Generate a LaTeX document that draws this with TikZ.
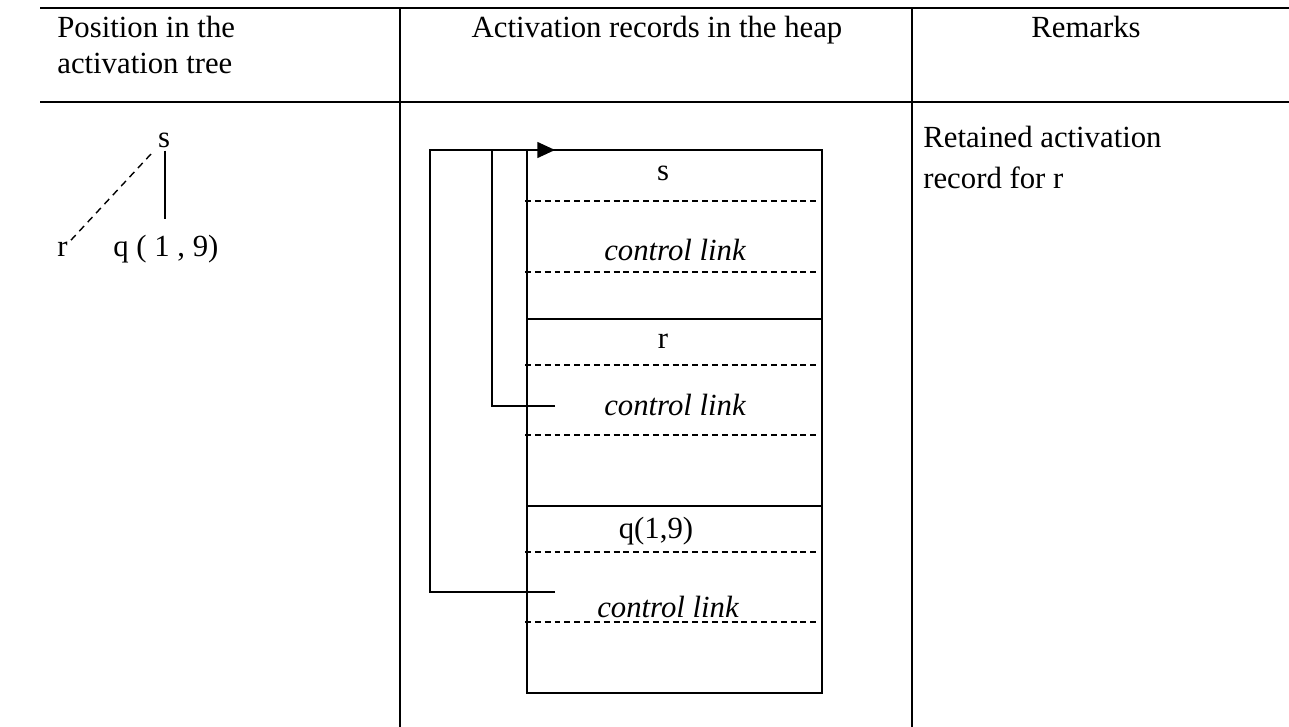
\documentclass[tikz,border=0pt]{standalone}
\usepackage{fontspec}
\setmainfont{Liberation Serif}
\usetikzlibrary{arrows.meta,positioning}

\begin{document}
\begin{tikzpicture}[
  x=0.02cm, y=-0.02cm,
  txt/.style={font=\fontsize{17.5}{21}\selectfont, inner sep=0pt},
  lbl/.style={font=\fontsize{17.5}{21}\selectfont\itshape, inner sep=0pt},
  rule/.style={line width=1.2pt},
  frame/.style={line width=0.9pt},
  sep/.style={line width=0.7pt, dash pattern=on 3.4pt off 2.2pt},
  treedash/.style={line width=0.8pt, dash pattern=on 4pt off 3pt},
  arr/.style={-{Triangle[length=10pt,width=9pt]}, line width=0.9pt}
]
\useasboundingbox (0,0) rectangle (1289,727);

% table
\draw[rule] (40,8) -- (1289,8);
\draw[rule] (40,102) -- (1289,102);
\draw[frame] (400,8) -- (400,727);
\draw[frame] (912,8) -- (912,727);

\node[txt, anchor=base west] (h1a) at (57,37) {Position in the};
\node[txt, anchor=base west] (h1b) at (57,73) {activation tree};
\node[txt, anchor=base] (h2) at (657,37) {Activation records in the heap};
\node[txt, anchor=base] (h3) at (1086,37) {Remarks};

% activation tree
\node[txt, anchor=base] (ts) at (164,147) {s};
\node[txt, anchor=base west] (tr) at (57,256) {r};
\node[txt, anchor=base west] (tq) at (113,256) {q ( 1 , 9)};
\draw[frame] (ts.south) ++(1,3) -- (165,219);
\draw[treedash] (tr.north east) ++(3,-1) -- (151,154);

% heap
\draw[frame] (527,150) rectangle (822,693);
\draw[frame] (527,319) -- (822,319);
\draw[frame] (527,506) -- (822,506);
\foreach \y in {201,272,365,435,552,622}
  \draw[sep] (525,\y) -- (818,\y);

\node[txt, anchor=base] (ss) at (663,180) {s};
\node[lbl, anchor=base] (cl1) at (675,260) {control link};
\node[txt, anchor=base] (rr) at (663,348) {r};
\node[lbl, anchor=base] (cl2) at (675,415) {control link};
\node[txt, anchor=base] (qq) at (656,538) {q(1,9)};
\node[lbl, anchor=base] (cl3) at (668,617) {control link};

\coordinate (entry) at (555,150);
\coordinate (link2) at (555,406);
\coordinate (link3) at (555,592);
\coordinate (inner) at (492,150);
\coordinate (outer) at (430,150);
\draw[frame] (link2) -| (inner);
\draw[arr] (link3) -| (outer) -- (entry);

% remarks
\node[txt, anchor=base west] (rm1) at (923,147) {Retained activation};
\node[txt, anchor=base west] (rm2) at (923,188) {record for r};
\end{tikzpicture}
\end{document}
